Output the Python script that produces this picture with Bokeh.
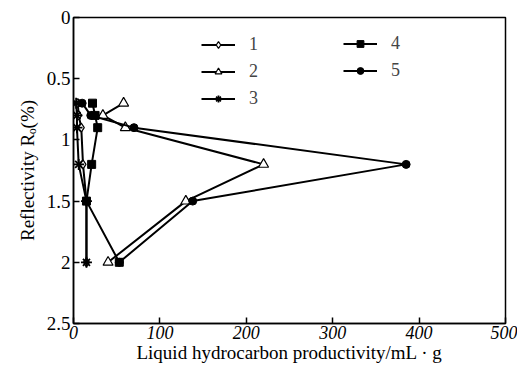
from bokeh.plotting import figure
from bokeh.models import Range1d, FixedTicker, Legend, LegendItem
from bokeh.embed import file_html
from bokeh.resources import INLINE

ro = [0.7, 0.8, 0.9, 1.2, 1.5, 2.0]
s1 = [5, 6, 9, 11, 15, 15]
s2 = [58, 34, 60, 220, 130, 40]
s3 = [3, 4, 4, 6, 15, 15]
s4 = [22, 25, 28, 21, 15, 53]
s5 = [10, 20, 70, 385, 138, 53]
names = ["1", "2", "3", "4", "5"]
x_ticks = [0, 100, 200, 300, 400, 500]
y_ticks = [0, 0.5, 1, 1.5, 2, 2.5]
y_tick_labels = {0: "0", 0.5: "0.5", 1: "1", 1.5: "1.5", 2: "2", 2.5: "2.5"}

FONT = "Liberation Serif"

p = figure(frame_width=432, frame_height=306, output_backend="svg", toolbar_location=None,
           x_range=Range1d(0, 500), y_range=Range1d(2.5, 0))
p.min_border_left = 73
p.min_border_right = 12
p.min_border_top = 17
p.min_border_bottom = 49
p.background_fill_color = "white"
p.border_fill_color = "white"
p.outline_line_color = "black"
p.outline_line_width = 1.5
p.grid.visible = False

p.xaxis.ticker = FixedTicker(ticks=x_ticks)
p.yaxis.ticker = FixedTicker(ticks=y_ticks)
p.yaxis.major_label_overrides = y_tick_labels
for ax in (p.xaxis, p.yaxis):
    ax.major_tick_in = 6
    ax.major_tick_out = 0
    ax.minor_tick_in = 0
    ax.minor_tick_out = 0
    ax.axis_line_color = "black"
    ax.axis_line_width = 1.5
    ax.major_tick_line_width = 1.5
    ax.major_label_text_font = FONT
    ax.major_label_text_color = "black"
    ax.axis_label_text_font = FONT
    ax.axis_label_text_font_size = "19px"
    ax.axis_label_text_font_style = "normal"
    ax.axis_label_text_color = "black"
p.xaxis.major_label_text_font_size = "18px"
p.yaxis.major_label_text_font_size = "19px"
p.xaxis.major_label_text_font_style = "italic"
p.xaxis.axis_label = "Liquid hydrocarbon productivity/mL · g"
p.yaxis.axis_label = "Reflectivity Rₒ(%)"
p.xaxis.major_label_standoff = 2
p.xaxis.axis_label_standoff = 0
p.yaxis.major_label_standoff = 3
p.yaxis.axis_label_standoff = 6

lw = 2
l1 = p.line(s1, ro, line_color="black", line_width=lw)
m1 = p.scatter(s1, ro, marker="diamond", size=9, fill_color="white", line_color="black", line_width=1.2)
l2 = p.line(s2, ro, line_color="black", line_width=lw)
m2 = p.scatter(s2, ro, marker="triangle", size=10, fill_color="white", line_color="black", line_width=1.2)
l3 = p.line(s3, ro, line_color="black", line_width=lw)
m3a = p.scatter(s3, ro, marker="x", size=10, line_color="black", line_width=1.8)
m3b = p.scatter(s3, ro, marker="cross", size=11, line_color="black", line_width=1.8)
l4 = p.line(s4, ro, line_color="black", line_width=lw)
m4 = p.scatter(s4, ro, marker="square", size=8, fill_color="black", line_color="black")
l5 = p.line(s5, ro, line_color="black", line_width=lw)
m5 = p.scatter(s5, ro, marker="circle", size=8, fill_color="black", line_color="black")

def mk_legend(its, loc):
    lg = Legend(items=its, location=loc, padding=0, margin=0, spacing=6,
                glyph_width=34, glyph_height=17, label_standoff=14,
                label_text_font=FONT, label_text_font_size="18px",
                label_height=17, background_fill_alpha=0, border_line_alpha=0)
    p.add_layout(lg)

mk_legend([LegendItem(label=names[0], renderers=[l1, m1]),
           LegendItem(label=names[1], renderers=[l2, m2]),
           LegendItem(label=names[2], renderers=[l3, m3a, m3b])], (128, 214))
mk_legend([LegendItem(label=names[3], renderers=[l4, m4]),
           LegendItem(label=names[4], renderers=[l5, m5])], (270, 242))

open("out.html", "w").write(file_html(p, INLINE))
